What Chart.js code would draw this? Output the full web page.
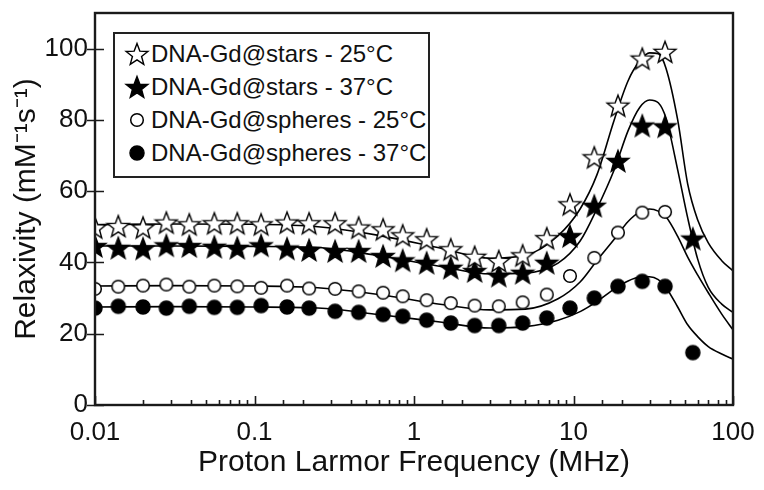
<!DOCTYPE html>
<html>
<head>
<meta charset="utf-8">
<script src="https://cdn.jsdelivr.net/npm/chart.js@4.4.0/dist/chart.umd.min.js"></script>
<style>
  body { margin: 0; background: #fff; }
  #wrap { position: relative; width: 764px; height: 490px; }
  #legend {
    position: absolute; left: 113px; top: 32px; width: 313px; height: 142px;
    border: 2px solid #222; background: #fff;
    font: 24px "Liberation Sans", Arial, sans-serif; color: #111;
  }
  .row { position: absolute; left: 0; height: 33px; display: flex; align-items: center; white-space: nowrap; }
  .row img { width: 26px; height: 26px; margin-left: 9px; margin-right: 1px; }
</style>
</head>
<body>
<div id="wrap">
  <canvas id="chart" width="764" height="490"></canvas>
  <div id="legend"></div>
</div>
<script>
// measured frequencies (MHz)
const freq = [0.01, 0.014, 0.02, 0.028, 0.039, 0.056, 0.078, 0.11, 0.16, 0.22, 0.32, 0.45, 0.64,
  0.85, 1.2, 1.7, 2.4, 3.4, 4.8, 6.8, 9.5, 13.5, 19, 27, 37.5, 56]

const stars25 = [49.8, 50.2, 49.8, 51.2, 50.7, 51.0, 51.0, 50.7, 51.2, 51.0, 51.0, 49.8, 49.3,
  47.6, 46.5, 43.7, 41.6, 40.4, 42.0, 46.8, 56.3, 69.5, 84.0, 97.2, 99.1, null]
const stars37 = [44.6, 44.1, 43.9, 44.8, 44.6, 44.4, 44.1, 44.8, 43.9, 43.5, 43.2, 43.2, 41.8,
  40.6, 39.9, 38.5, 37.6, 36.3, 37.1, 39.9, 47.4, 55.9, 68.5, 78.4, 78.2, 46.7]
const spheres25 = [32.6, 33.2, 33.5, 33.8, 33.2, 33.5, 33.3, 32.9, 33.5, 32.7, 32.6, 31.9, 31.5,
  30.5, 29.4, 28.6, 27.9, 27.7, 28.8, 31.0, 36.2, 41.3, 48.4, 54.0, 54.2, null]
const spheres37 = [27.2, 27.7, 27.5, 27.2, 27.7, 27.4, 27.4, 27.9, 27.5, 27.2, 26.3, 26.0, 25.4,
  24.9, 23.8, 23.0, 22.3, 22.3, 23.0, 24.4, 27.2, 30.0, 33.3, 34.7, 33.3, 14.7]

// fitted curves
const fitFreq = [0.01, 0.03, 0.1, 0.25, 0.6, 1.5, 3, 5, 8, 11, 14, 18, 22, 26, 30, 34, 38, 45, 52, 60, 70, 85, 100]
const stars25Fit = [50.6, 50.8, 50.7, 50.0, 47.6, 43.9, 41.2, 42.0, 47.5, 55.0, 64.5, 80.0, 91.0,
  96.5, 98.8, 98.6, 94.5, 80.0, 62.0, 52.0, 45.5, 40.5, 37.6]
const stars37Fit = [44.6, 44.6, 44.5, 44.2, 41.9, 38.8, 36.8, 37.0, 39.8, 46.0, 55.0, 66.0, 77.0,
  83.5, 85.6, 84.8, 80.5, 66.0, 52.5, 41.0, 33.0, 28.3, 26.0]
const spheres25Fit = [33.4, 33.5, 33.4, 32.9, 31.0, 28.2, 26.7, 26.9, 29.8, 34.5, 40.5, 46.5, 51.5,
  54.2, 55.0, 54.4, 52.8, 47.3, 41.5, 36.5, 31.5, 25.5, 21.1]
const spheres37Fit = [27.5, 27.6, 27.5, 27.2, 25.4, 23.2, 21.6, 22.0, 23.8, 26.2, 29.0, 32.5, 34.8,
  35.9, 36.0, 35.2, 33.0, 27.5, 22.5, 19.2, 16.4, 14.3, 12.9]

const seriesLabels = ['DNA-Gd@stars - 25°C', 'DNA-Gd@stars - 37°C', 'DNA-Gd@spheres - 25°C', 'DNA-Gd@spheres - 37°C']
const xTickValues = [0.01, 0.1, 1, 10, 100]
const xTickLabels = ['0.01', '0.1', '1', '10', '100']
const yTickValues = [0, 20, 40, 60, 80, 100]

function starCanvas(filled) {
    const c = document.createElement('canvas')
    c.width = 26
    c.height = 26
    const g = c.getContext('2d')
    g.beginPath()
    for (let i = 0; i < 10; i++) {
        const r = i % 2 ? 4.8 : 11.5
        const a = -Math.PI / 2 + i * Math.PI / 5
        g.lineTo(13 + r * Math.cos(a), 14 + r * Math.sin(a))
    }
    g.closePath()
    g.fillStyle = filled ? '#000' : '#fff'
    g.fill()
    g.lineWidth = 1.4
    g.strokeStyle = '#000'
    g.stroke()
    return c
}

function circleCanvas(filled) {
    const c = document.createElement('canvas')
    c.width = 26
    c.height = 26
    const g = c.getContext('2d')
    g.beginPath()
    g.arc(13, 13, filled ? 7 : 6.3, 0, Math.PI * 2)
    g.fillStyle = filled ? '#000' : '#fff'
    g.fill()
    g.lineWidth = 1.5
    g.strokeStyle = '#000'
    g.stroke()
    return c
}

const markers = [starCanvas(false), starCanvas(true), circleCanvas(false), circleCanvas(true)]

function pts(xs, ys) {
    return xs.map((x, i) => ({ x: x, y: ys[i] })).filter(p => p.y !== null)
}

function markerSet(label, ys, marker) {
    return { label: label, data: pts(freq, ys), showLine: false, pointStyle: marker, pointRadius: 12, pointHoverRadius: 12 }
}

function fitSet(ys) {
    return { label: 'fit', data: pts(fitFreq, ys), borderColor: '#000', borderWidth: 1.6, pointRadius: 0,
        cubicInterpolationMode: 'monotone', fill: false }
}

// legend box
const legend = document.getElementById('legend')
seriesLabels.forEach((label, i) => {
    const row = document.createElement('div')
    row.className = 'row'
    row.style.top = (3 + i * 33) + 'px'
    const img = document.createElement('img')
    img.src = markers[i].toDataURL()
    row.appendChild(img)
    const span = document.createElement('span')
    span.textContent = label
    row.appendChild(span)
    legend.appendChild(row)
})

const frameAndTicks = {
    id: 'frameAndTicks',
    afterDraw(chart) {
        const ctx = chart.ctx
        const a = chart.chartArea
        const xs = chart.scales.x
        const ys = chart.scales.y
        ctx.save()
        ctx.strokeStyle = '#1a1a1a'
        ctx.lineWidth = 1.6
        ctx.beginPath()
        xs.ticks.forEach(t => {
            const px = Math.round(xs.getPixelForValue(t.value)) + 0.5
            const major = xTickValues.some(v => Math.abs(v - t.value) / v < 1e-6)
            ctx.moveTo(px, a.bottom)
            ctx.lineTo(px, a.bottom - (major ? 9 : 5))
        })
        yTickValues.forEach(v => {
            const py = Math.round(ys.getPixelForValue(v)) + 0.5
            ctx.moveTo(a.left - 8, py)
            ctx.lineTo(a.left + 9, py)
        })
        ctx.stroke()
        ctx.lineWidth = 2.4
        ctx.strokeRect(a.left, a.top, a.right - a.left, a.bottom - a.top)
        ctx.restore()
    }
}

Chart.defaults.font.family = '"Liberation Sans", Arial, sans-serif'
Chart.defaults.color = '#111'

new Chart(document.getElementById('chart'), {
    type: 'line',
    data: {
        datasets: [
            markerSet(seriesLabels[0], stars25, markers[0]),
            markerSet(seriesLabels[1], stars37, markers[1]),
            markerSet(seriesLabels[2], spheres25, markers[2]),
            markerSet(seriesLabels[3], spheres37, markers[3]),
            fitSet(stars25Fit),
            fitSet(stars37Fit),
            fitSet(spheres25Fit),
            fitSet(spheres37Fit)
        ]
    },
    options: {
        responsive: false,
        animation: false,
        devicePixelRatio: 1,
        layout: { padding: { top: 12, right: 31, bottom: 0, left: 0 } },
        plugins: { legend: { display: false }, tooltip: { enabled: false } },
        scales: {
            x: {
                type: 'logarithmic',
                min: 0.01,
                max: 100,
                grid: { display: false, drawTicks: false },
                border: { display: false },
                ticks: {
                    autoSkip: false,
                    maxRotation: 0,
                    padding: 12,
                    font: { size: 26 },
                    callback: function (v) {
                        const i = xTickValues.findIndex(t => Math.abs(t - v) / t < 1e-6)
                        return i >= 0 ? xTickLabels[i] : ''
                    }
                },
                title: { display: true, text: 'Proton Larmor Frequency (MHz)', font: { size: 30 }, padding: { top: 0, bottom: 9 } },
                afterFit: function (s) { s.height = 85; s.paddingLeft = 0; s.paddingRight = 0 }
            },
            y: {
                min: 0,
                max: 110,
                grid: { display: false, drawTicks: false },
                border: { display: false },
                ticks: { stepSize: 20, includeBounds: false, padding: 7, font: { size: 26 } },
                title: { display: true, text: 'Relaxivity (mM⁻¹s⁻¹)', font: { size: 30 }, padding: { top: 9, bottom: 0 } },
                afterFit: function (s) { s.width = 95; s.paddingTop = 0; s.paddingBottom = 0 }
            }
        }
    },
    plugins: [frameAndTicks]
})
</script>
</body>
</html>
